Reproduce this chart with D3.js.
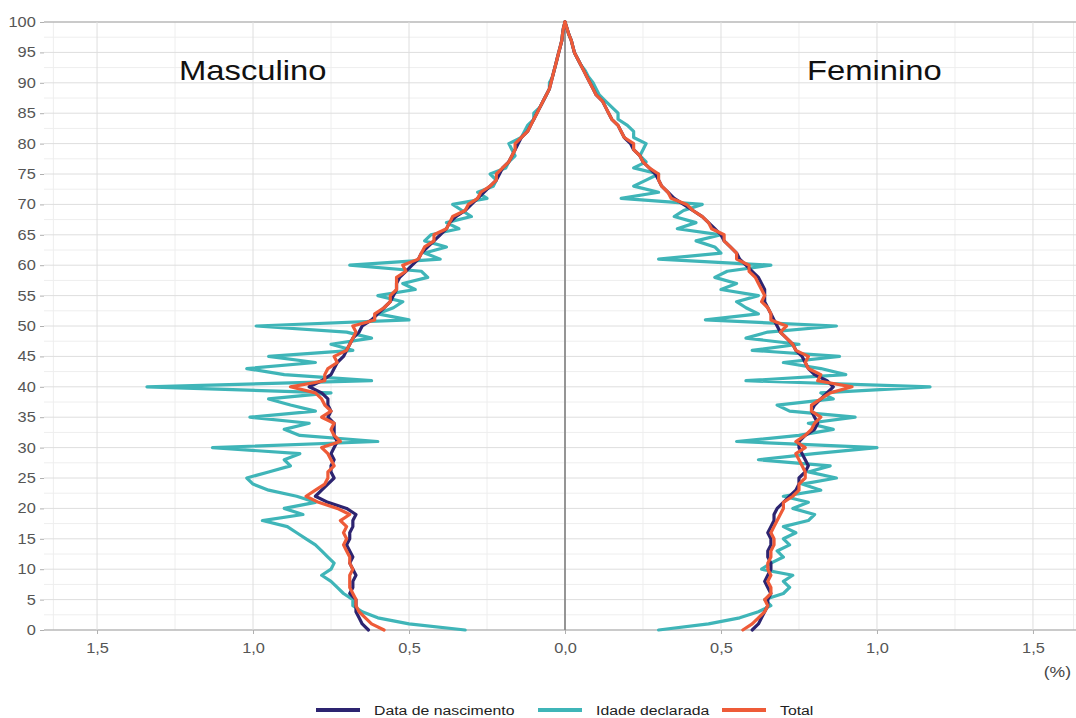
<!DOCTYPE html>
<html>
<head>
<meta charset="utf-8">
<script src="https://cdn.jsdelivr.net/npm/d3@7"></script>
<style>
  body { margin: 0; background: #fff; }
  svg text { font-family: "Liberation Sans", Arial, sans-serif; }
</style>
</head>
<body>
<div id="chart"></div>
<script>
const width = 1076;
const height = 718;

// Ages 0..100, share of population (%) by single year
const ages = d3.range(0, 101);

const seriesNames = ["Data de nascimento", "Idade declarada", "Total"];
const seriesColors = ["#2d2470", "#3fb5b8", "#ee5b38"];

// Masculino (drawn to the left)
const maleNascimento = [
  0.63, 0.65, 0.66, 0.67, 0.67, 0.67, 0.69, 0.68, 0.68, 0.67,
  0.68, 0.69, 0.68, 0.69, 0.70, 0.69, 0.69, 0.68, 0.68, 0.67,
  0.70, 0.76, 0.80, 0.78, 0.76, 0.74, 0.75, 0.75, 0.74, 0.75,
  0.74, 0.73, 0.74, 0.74, 0.74, 0.76, 0.75, 0.76, 0.76, 0.78,
  0.82, 0.78, 0.75, 0.74, 0.73, 0.71, 0.70, 0.69, 0.68, 0.66,
  0.65, 0.62, 0.60, 0.58, 0.56, 0.55, 0.54, 0.54, 0.53, 0.51,
  0.49, 0.47, 0.46, 0.44, 0.42, 0.40, 0.38, 0.37, 0.35, 0.32,
  0.30, 0.28, 0.26, 0.24, 0.22, 0.21, 0.20, 0.18, 0.17, 0.16,
  0.15, 0.14, 0.12, 0.11, 0.10, 0.09, 0.08, 0.07, 0.06, 0.05,
  0.045, 0.04, 0.035, 0.03, 0.025, 0.02, 0.015, 0.01, 0.008, 0.005,
  0.0
];
const maleDeclarada = [
  0.32, 0.50, 0.60, 0.65, 0.68, 0.68, 0.71, 0.73, 0.75, 0.78,
  0.75, 0.74, 0.76, 0.78, 0.80, 0.83, 0.86, 0.89, 0.97, 0.84,
  0.90, 0.80, 0.86, 0.95, 1.00, 1.02, 0.95, 0.88, 0.90, 0.85,
  1.13, 0.60, 0.85, 0.90, 0.82, 1.01, 0.80, 0.88, 0.95, 0.75,
  1.34, 0.62, 0.90, 1.02, 0.80, 0.95, 0.68, 0.75, 0.62, 0.70,
  0.99, 0.50, 0.60, 0.55, 0.52, 0.60, 0.48, 0.52, 0.44, 0.46,
  0.69, 0.40, 0.45, 0.38, 0.45, 0.43, 0.34, 0.38, 0.30, 0.33,
  0.36, 0.25, 0.28, 0.23, 0.22, 0.24, 0.19, 0.18, 0.16, 0.17,
  0.18, 0.14, 0.13, 0.12, 0.10, 0.10, 0.08, 0.07, 0.06, 0.05,
  0.05, 0.04, 0.035, 0.03, 0.025, 0.02, 0.015, 0.01, 0.008, 0.005,
  0.0
];
const maleTotal = [
  0.58, 0.62, 0.64, 0.66, 0.67, 0.67, 0.68, 0.69, 0.69, 0.69,
  0.68, 0.69, 0.69, 0.70, 0.71, 0.70, 0.71, 0.70, 0.72, 0.69,
  0.73, 0.79, 0.83, 0.80, 0.77, 0.76, 0.76, 0.74, 0.75, 0.76,
  0.78, 0.72, 0.74, 0.75, 0.74, 0.78, 0.75, 0.77, 0.78, 0.80,
  0.88, 0.77, 0.77, 0.76, 0.73, 0.74, 0.70, 0.69, 0.68, 0.67,
  0.68, 0.61, 0.61, 0.58, 0.56, 0.56, 0.54, 0.54, 0.54, 0.51,
  0.52, 0.47, 0.46, 0.45, 0.42, 0.42, 0.38, 0.37, 0.36, 0.32,
  0.31, 0.28, 0.27, 0.24, 0.22, 0.22, 0.20, 0.18, 0.17, 0.16,
  0.16, 0.14, 0.12, 0.11, 0.10, 0.09, 0.08, 0.07, 0.06, 0.05,
  0.045, 0.04, 0.035, 0.03, 0.025, 0.02, 0.015, 0.01, 0.008, 0.005,
  0.0
];

// Feminino (drawn to the right)
const femaleNascimento = [
  0.60, 0.62, 0.63, 0.64, 0.65, 0.65, 0.66, 0.65, 0.64, 0.65,
  0.66, 0.66, 0.65, 0.65, 0.66, 0.66, 0.65, 0.66, 0.67, 0.67,
  0.68, 0.70, 0.72, 0.74, 0.75, 0.75, 0.77, 0.78, 0.77, 0.76,
  0.75, 0.75, 0.77, 0.80, 0.81, 0.80, 0.79, 0.80, 0.82, 0.84,
  0.86, 0.84, 0.80, 0.78, 0.77, 0.76, 0.74, 0.73, 0.71, 0.69,
  0.68, 0.67, 0.66, 0.65, 0.64, 0.64, 0.64, 0.63, 0.62, 0.60,
  0.58, 0.56, 0.55, 0.53, 0.51, 0.50, 0.48, 0.46, 0.44, 0.41,
  0.38, 0.35, 0.33, 0.31, 0.30, 0.29, 0.27, 0.25, 0.24, 0.22,
  0.21, 0.19, 0.18, 0.17, 0.15, 0.14, 0.13, 0.12, 0.10, 0.09,
  0.08, 0.07, 0.06, 0.05, 0.04, 0.03, 0.025, 0.02, 0.012, 0.006,
  0.0
];
const femaleDeclarada = [
  0.30, 0.46, 0.56, 0.62, 0.66, 0.64, 0.70, 0.72, 0.70, 0.73,
  0.63, 0.66, 0.70, 0.68, 0.72, 0.70, 0.74, 0.70, 0.78, 0.80,
  0.73, 0.78, 0.70, 0.82, 0.76, 0.87, 0.78, 0.85, 0.62, 0.80,
  1.00, 0.55, 0.75, 0.86, 0.78, 0.93, 0.72, 0.68, 0.86, 0.82,
  1.17, 0.58, 0.90, 0.82, 0.70, 0.88, 0.60, 0.75, 0.58, 0.65,
  0.87, 0.45, 0.62, 0.58, 0.55, 0.62, 0.50, 0.55, 0.48, 0.52,
  0.66, 0.30, 0.50, 0.48, 0.42, 0.50, 0.36, 0.42, 0.35, 0.38,
  0.44, 0.18, 0.30, 0.22, 0.26, 0.30, 0.22, 0.26, 0.24, 0.25,
  0.26, 0.22, 0.22, 0.20, 0.17, 0.17, 0.15, 0.13, 0.11, 0.10,
  0.09, 0.075, 0.065, 0.05, 0.04, 0.03, 0.025, 0.02, 0.012, 0.006,
  0.0
];
const femaleTotal = [
  0.57, 0.60, 0.62, 0.64, 0.65, 0.64, 0.66, 0.66, 0.65, 0.66,
  0.65, 0.65, 0.66, 0.66, 0.67, 0.67, 0.66, 0.67, 0.68, 0.69,
  0.70, 0.70, 0.73, 0.75, 0.75, 0.77, 0.77, 0.76, 0.75, 0.74,
  0.77, 0.74, 0.77, 0.79, 0.80, 0.82, 0.79, 0.79, 0.82, 0.85,
  0.92, 0.81, 0.82, 0.78, 0.77, 0.78, 0.74, 0.73, 0.71, 0.69,
  0.71, 0.66, 0.66, 0.65, 0.63, 0.64, 0.63, 0.62, 0.61, 0.59,
  0.59, 0.55, 0.55, 0.53, 0.51, 0.51, 0.47, 0.46, 0.44, 0.41,
  0.39, 0.34, 0.33, 0.31, 0.30, 0.30, 0.27, 0.25, 0.24, 0.22,
  0.22, 0.19, 0.18, 0.17, 0.15, 0.14, 0.13, 0.12, 0.10, 0.09,
  0.08, 0.07, 0.06, 0.05, 0.04, 0.03, 0.025, 0.02, 0.012, 0.006,
  0.0
];

const xTicks = [-1.5, -1.0, -0.5, 0, 0.5, 1.0, 1.5];
const yTicks = d3.range(0, 101, 5);

// Scales
const x = d3.scaleLinear().domain([-1.67, 1.67]).range([44, 1086]);
const y = d3.scaleLinear().domain([0, 100]).range([630, 22]);

// the source picture is a bit wider than tall, text looks stretched
const stretch = 1.17;

const svg = d3.select("#chart")
  .append("svg")
  .attr("width", width)
  .attr("height", height);

// Minor grid
const grid = svg.append("g");
grid.selectAll(".ymin")
  .data(d3.range(2.5, 100, 5))
  .enter().append("line")
  .attr("x1", x.range()[0]).attr("x2", width)
  .attr("y1", d => y(d)).attr("y2", d => y(d))
  .attr("stroke", "#eeeeee").attr("stroke-width", 1);

grid.selectAll(".xmin")
  .data([-1.64, -1.25, -0.75, -0.25, 0.25, 0.75, 1.25, 1.63])
  .enter().append("line")
  .attr("x1", d => x(d)).attr("x2", d => x(d))
  .attr("y1", y(100)).attr("y2", y(0))
  .attr("stroke", "#eeeeee").attr("stroke-width", 1);

// Major grid
grid.selectAll(".ymaj")
  .data(yTicks)
  .enter().append("line")
  .attr("x1", x.range()[0]).attr("x2", width)
  .attr("y1", d => y(d)).attr("y2", d => y(d))
  .attr("stroke", d => (d === 0 || d === 100) ? "#b8b8b8" : "#dedede")
  .attr("stroke-width", d => (d === 0 || d === 100) ? 1.5 : 1);

grid.selectAll(".xmaj")
  .data(xTicks.filter(d => d !== 0))
  .enter().append("line")
  .attr("x1", d => x(d)).attr("x2", d => x(d))
  .attr("y1", y(100)).attr("y2", y(0))
  .attr("stroke", "#dedede").attr("stroke-width", 1);

// Axes
const fmt = d => Math.abs(d).toFixed(1).replace(".", ",");

const yAxis = svg.append("g")
  .attr("transform", `translate(${x.range()[0]},0)`)
  .call(d3.axisLeft(y).tickValues(yTicks).tickSize(4).tickPadding(3));

const xAxis = svg.append("g")
  .attr("transform", `translate(0,${y(0)})`)
  .call(d3.axisBottom(x).tickValues(xTicks).tickFormat(fmt).tickSize(4).tickPadding(9));

[yAxis, xAxis].forEach(ax => {
  ax.select(".domain").remove();
  ax.selectAll(".tick line").attr("stroke", "#b0b0b0");
  ax.selectAll(".tick text")
    .attr("fill", "#555")
    .attr("font-size", "14px")
    .attr("transform", `scale(${stretch},1)`);
});

svg.append("text")
  .attr("transform", `translate(1071,677) scale(${stretch},1)`)
  .attr("text-anchor", "end")
  .attr("font-size", "15px")
  .attr("fill", "#444")
  .text("(%)");

// Centre line
svg.append("line")
  .attr("x1", x(0)).attr("x2", x(0))
  .attr("y1", y(100)).attr("y2", y(0))
  .attr("stroke", "#8a8a8a")
  .attr("stroke-width", 1.8);

// Lines
const line = d3.line()
  .x(d => x(d.v))
  .y(d => y(d.age))
  .curve(d3.curveLinear);

const toPoints = (vals, sign) => vals.map((v, i) => ({ age: ages[i], v: sign * v }));

const drawOrder = [
  { data: maleDeclarada, sign: -1, color: seriesColors[1] },
  { data: femaleDeclarada, sign: 1, color: seriesColors[1] },
  { data: maleNascimento, sign: -1, color: seriesColors[0] },
  { data: femaleNascimento, sign: 1, color: seriesColors[0] },
  { data: maleTotal, sign: -1, color: seriesColors[2] },
  { data: femaleTotal, sign: 1, color: seriesColors[2] }
];

svg.append("g")
  .selectAll("path")
  .data(drawOrder)
  .enter().append("path")
  .attr("d", d => line(toPoints(d.data, d.sign)))
  .attr("fill", "none")
  .attr("stroke", d => d.color)
  .attr("stroke-width", 3.2)
  .attr("stroke-linejoin", "round")
  .attr("stroke-linecap", "round");

// Panel labels
svg.append("text")
  .attr("transform", `translate(179,80) scale(${stretch},1)`)
  .attr("font-size", "28px")
  .attr("fill", "#111")
  .text("Masculino");

svg.append("text")
  .attr("transform", `translate(807,80) scale(${stretch},1)`)
  .attr("font-size", "28px")
  .attr("fill", "#111")
  .text("Feminino");

// Legend
const legendItems = [
  { name: seriesNames[0], color: seriesColors[0], x: 316 },
  { name: seriesNames[1], color: seriesColors[1], x: 538 },
  { name: seriesNames[2], color: seriesColors[2], x: 722 }
];

const legend = svg.append("g").attr("transform", "translate(0,710)");
const item = legend.selectAll("g")
  .data(legendItems)
  .enter().append("g")
  .attr("transform", d => `translate(${d.x},0)`);

item.append("line")
  .attr("x1", 0).attr("x2", 44)
  .attr("y1", 0).attr("y2", 0)
  .attr("stroke", d => d.color)
  .attr("stroke-width", 4);

item.append("text")
  .attr("transform", `translate(58,0) scale(${stretch},1)`)
  .attr("dy", "0.35em")
  .attr("font-size", "13.5px")
  .attr("fill", "#222")
  .text(d => d.name);
</script>
</body>
</html>
